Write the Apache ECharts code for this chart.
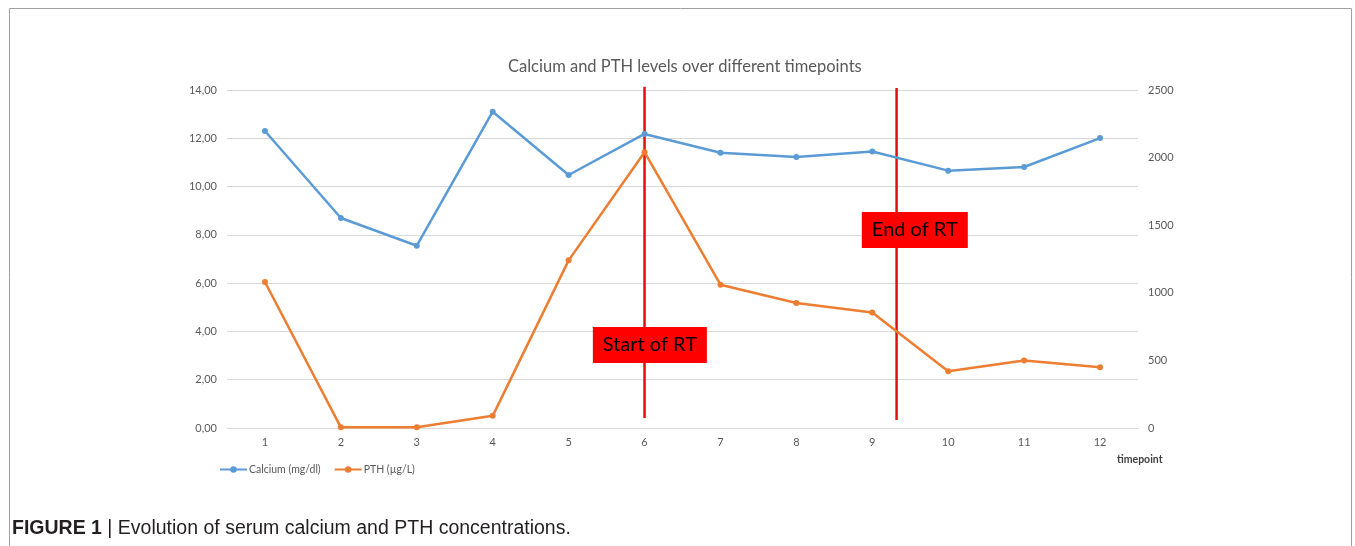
<!DOCTYPE html>
<html>
<head>
<meta charset="utf-8">
<script src="https://cdn.jsdelivr.net/npm/echarts@6/dist/echarts.min.js"></script>
<style>
html,body{margin:0;padding:0;background:#fff;}
#chart{width:1355px;height:546px;}
</style>
</head>
<body>
<div id="chart"></div>
<script>
var categories = ['1','2','3','4','5','6','7','8','9','10','11','12'];
var calcium = [12.30, 8.70, 7.55, 13.10, 10.48, 12.18, 11.40, 11.22, 11.45, 10.66, 10.81, 12.01];
var pth = [1080, 5, 5, 90, 1240, 2040, 1060, 925, 855, 420, 500, 450];
var leftTicks = { min: 0, max: 14, interval: 2 };
var rightTicks = { min: 0, max: 2500, interval: 500 };
// RT annotation lines: [x position on timepoint scale, y top, y bottom] in calcium units
var startLine = [[6.0, 14.13], [6.0, 0.41]];
var endLine = [[9.32, 14.08], [9.32, 0.33]];
// RT labels: [x, y] in timepoint / calcium units
var startLabel = [[6.07, 3.44]];
var endLabel = [[9.56, 8.2]];
var labelTexts = ['Start of RT', 'End of RT'];

var FONT = 'Lato';
var chart = echarts.init(document.getElementById('chart'), null, {renderer: 'canvas'});
var fmt = function (v) { return v.toFixed(2).replace('.', ','); };

var option = {
  animation: false,
  backgroundColor: '#ffffff',
  title: {
    text: 'Calcium and PTH levels over different timepoints',
    left: 503, top: 53,
    textStyle: { fontFamily: FONT, fontSize: 16.5, fontWeight: 'normal', color: '#595959' }
  },
  grid: { left: 227, right: 217, top: 90, bottom: 118, containLabel: false },
  legend: {
    left: 214, top: 459,
    itemWidth: 27, itemHeight: 8, itemGap: 13,
    textStyle: { fontFamily: FONT, fontSize: 10.5, color: '#595959', padding: [0, 0, 0, -3] },
    data: ['Calcium (mg/dl)', 'PTH (µg/L)']
  },
  xAxis: [{
    type: 'category',
    data: categories,
    boundaryGap: true,
    axisLine: { show: true, lineStyle: { color: '#d9d9d9' } },
    axisTick: { show: false },
    axisLabel: { fontFamily: FONT, fontSize: 11, color: '#595959', margin: 9 }
  }, {
    type: 'value', min: 0.5, max: 12.5, show: false
  }],
  yAxis: [{
    type: 'value', min: leftTicks.min, max: leftTicks.max, interval: leftTicks.interval,
    axisLine: { show: false }, axisTick: { show: false },
    axisLabel: { fontFamily: FONT, fontSize: 11, color: '#595959', margin: 10, formatter: fmt },
    splitLine: { lineStyle: { color: '#d9d9d9', width: 1 } }
  }, {
    type: 'value', min: rightTicks.min, max: rightTicks.max, interval: rightTicks.interval,
    position: 'right',
    axisLine: { show: false }, axisTick: { show: false },
    axisLabel: { fontFamily: FONT, fontSize: 11, color: '#595959', margin: 10,
      formatter: function (v) { return String(v); } },
    splitLine: { show: false }
  }],
  series: [
    {
      name: 'Start line', type: 'line', xAxisIndex: 1, yAxisIndex: 0,
      data: startLine, symbol: 'none', clip: false, z: 1, silent: true,
      lineStyle: { color: '#e01010', width: 2.5 }
    },
    {
      name: 'End line', type: 'line', xAxisIndex: 1, yAxisIndex: 0,
      data: endLine, symbol: 'none', clip: false, z: 1, silent: true,
      lineStyle: { color: '#e01010', width: 2.5 }
    },
    {
      name: 'Calcium (mg/dl)', type: 'line', xAxisIndex: 0, yAxisIndex: 0,
      data: calcium, color: '#5b9bd5', z: 3,
      symbol: 'circle', symbolSize: 6,
      lineStyle: { width: 2.5, color: '#5b9bd5' },
      itemStyle: { color: '#5b9bd5' }
    },
    {
      name: 'PTH (µg/L)', type: 'line', xAxisIndex: 0, yAxisIndex: 1,
      data: pth, color: '#ed7d31', z: 3,
      symbol: 'circle', symbolSize: 6,
      lineStyle: { width: 2.5, color: '#ed7d31' },
      itemStyle: { color: '#ed7d31' }
    },
    {
      name: 'Start label', type: 'scatter', xAxisIndex: 1, yAxisIndex: 0,
      data: startLabel, symbol: 'rect', symbolSize: [114, 36], z: 5, silent: true,
      itemStyle: { color: '#ff0000', opacity: 1 },
      label: { show: true, position: 'inside', formatter: labelTexts[0],
        fontFamily: FONT, fontSize: 20, color: '#000000' }
    },
    {
      name: 'End label', type: 'scatter', xAxisIndex: 1, yAxisIndex: 0,
      data: endLabel, symbol: 'rect', symbolSize: [106, 36], z: 5, silent: true,
      itemStyle: { color: '#ff0000', opacity: 1 },
      label: { show: true, position: 'inside', formatter: labelTexts[1],
        fontFamily: FONT, fontSize: 20, color: '#000000' }
    }
  ],
  graphic: [
    {
      type: 'rect', shape: { x: 9.5, y: 8.5, width: 1342, height: 560 },
      style: { fill: 'none', stroke: '#a0a0a0', lineWidth: 1 }, silent: true
    },
    {
      type: 'text', left: 1117, top: 454,
      style: { text: 'timepoint', fontFamily: FONT, fontSize: 10.5, fontWeight: 'bold', fill: '#404040' }
    },
    {
      type: 'text', left: 12, top: 519,
      style: {
        rich: {
          b: { fontFamily: 'Liberation Sans', fontSize: 19.5, fontWeight: 'bold', fill: '#231f20' },
          n: { fontFamily: 'Liberation Sans', fontSize: 19.5, fill: '#231f20' }
        },
        text: '{b|FIGURE 1}{n| | Evolution of serum calcium and PTH concentrations.}'
      }
    }
  ]
};
chart.setOption(option);
</script>
</body>
</html>
